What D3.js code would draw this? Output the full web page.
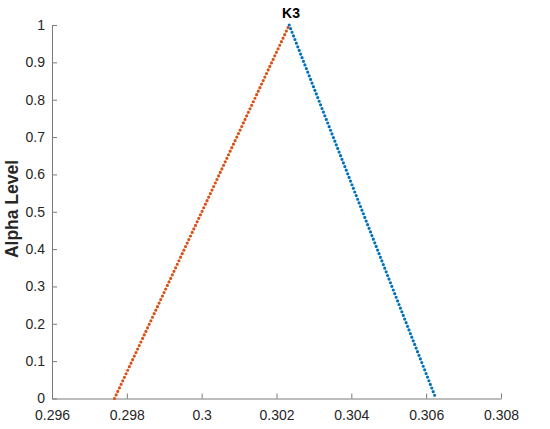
<!DOCTYPE html>
<html>
<head>
<meta charset="utf-8">
<script src="https://cdn.jsdelivr.net/npm/d3@7"></script>
<style>
  body { margin: 0; background: #fff; }
  text { font-family: "Liberation Sans", Arial, sans-serif; }
</style>
</head>
<body>
<script>
// Chart data: alpha-cut endpoints of the triangular fuzzy number K3.
var title = "K3";
var yLabel = "Alpha Level";
var xTicks = [0.296, 0.298, 0.3, 0.302, 0.304, 0.306, 0.308];
var yTicks = [0, 0.1, 0.2, 0.3, 0.4, 0.5, 0.6, 0.7, 0.8, 0.9, 1];
var leftSide = [[0.29767, 0], [0.30234, 1]];   // rising branch
var rightSide = [[0.30234, 1], [0.30626, 0]];  // falling branch

var width = 550, height = 429;
var margin = {top: 25, right: 49, bottom: 30, left: 52};

var svg = d3.select("body").append("svg")
        .attr("width", width)
        .attr("height", height);

var x = d3.scaleLinear().domain([0.296, 0.308])
        .range([margin.left, width - margin.right]);
var y = d3.scaleLinear().domain([0, 1])
        .range([height - margin.bottom - 0.5, margin.top]);

// Axes (MATLAB style: ticks point inward).
var xAxis = svg.append("g")
        .attr("transform", "translate(0," + y(0) + ")")
        .call(d3.axisBottom(x).tickValues(xTicks).tickSizeInner(-5).tickSizeOuter(0)
            .tickFormat(function(d) { return d3.format("")(+d.toFixed(3)); }));
var yAxis = svg.append("g")
        .attr("transform", "translate(" + margin.left + ",0)")
        .call(d3.axisLeft(y).tickValues(yTicks).tickSizeInner(-5).tickSizeOuter(0)
            .tickFormat(function(d) { return d3.format("")(+d.toFixed(1)); }));

[xAxis, yAxis].forEach(function(g) {
    g.select(".domain").attr("stroke", "#7a7a7a");
    g.selectAll(".tick line").attr("stroke", "#7a7a7a");
    g.selectAll(".tick text").attr("fill", "#262626").style("font-size", "14px");
});
xAxis.selectAll(".tick text").attr("dy", "1em").attr("y", 7.5);
yAxis.selectAll(".tick text").attr("x", -7);

// Dotted branches.
var line = d3.line()
        .x(function(d) { return x(d[0]); })
        .y(function(d) { return y(d[1]); });

[[leftSide, "#D95319"], [rightSide, "#0072BD"]].forEach(function(s) {
    svg.append("path")
        .datum(s[0])
        .attr("d", line)
        .attr("fill", "none")
        .attr("stroke", s[1])
        .attr("stroke-width", 3.2)
        .attr("stroke-linecap", "round")
        .attr("stroke-dasharray", "0 3.9");
});

// Title and axis label.
svg.append("text")
        .attr("x", 291)
        .attr("y", 18)
        .attr("text-anchor", "middle")
        .style("font-size", "14px")
        .style("font-weight", "bold")
        .text(title);

svg.append("text")
        .attr("transform", "translate(18,209) rotate(-90)")
        .attr("text-anchor", "middle")
        .style("font-size", "17.5px")
        .style("font-weight", "bold")
        .attr("fill", "#262626")
        .text(yLabel);
</script>
</body>
</html>
